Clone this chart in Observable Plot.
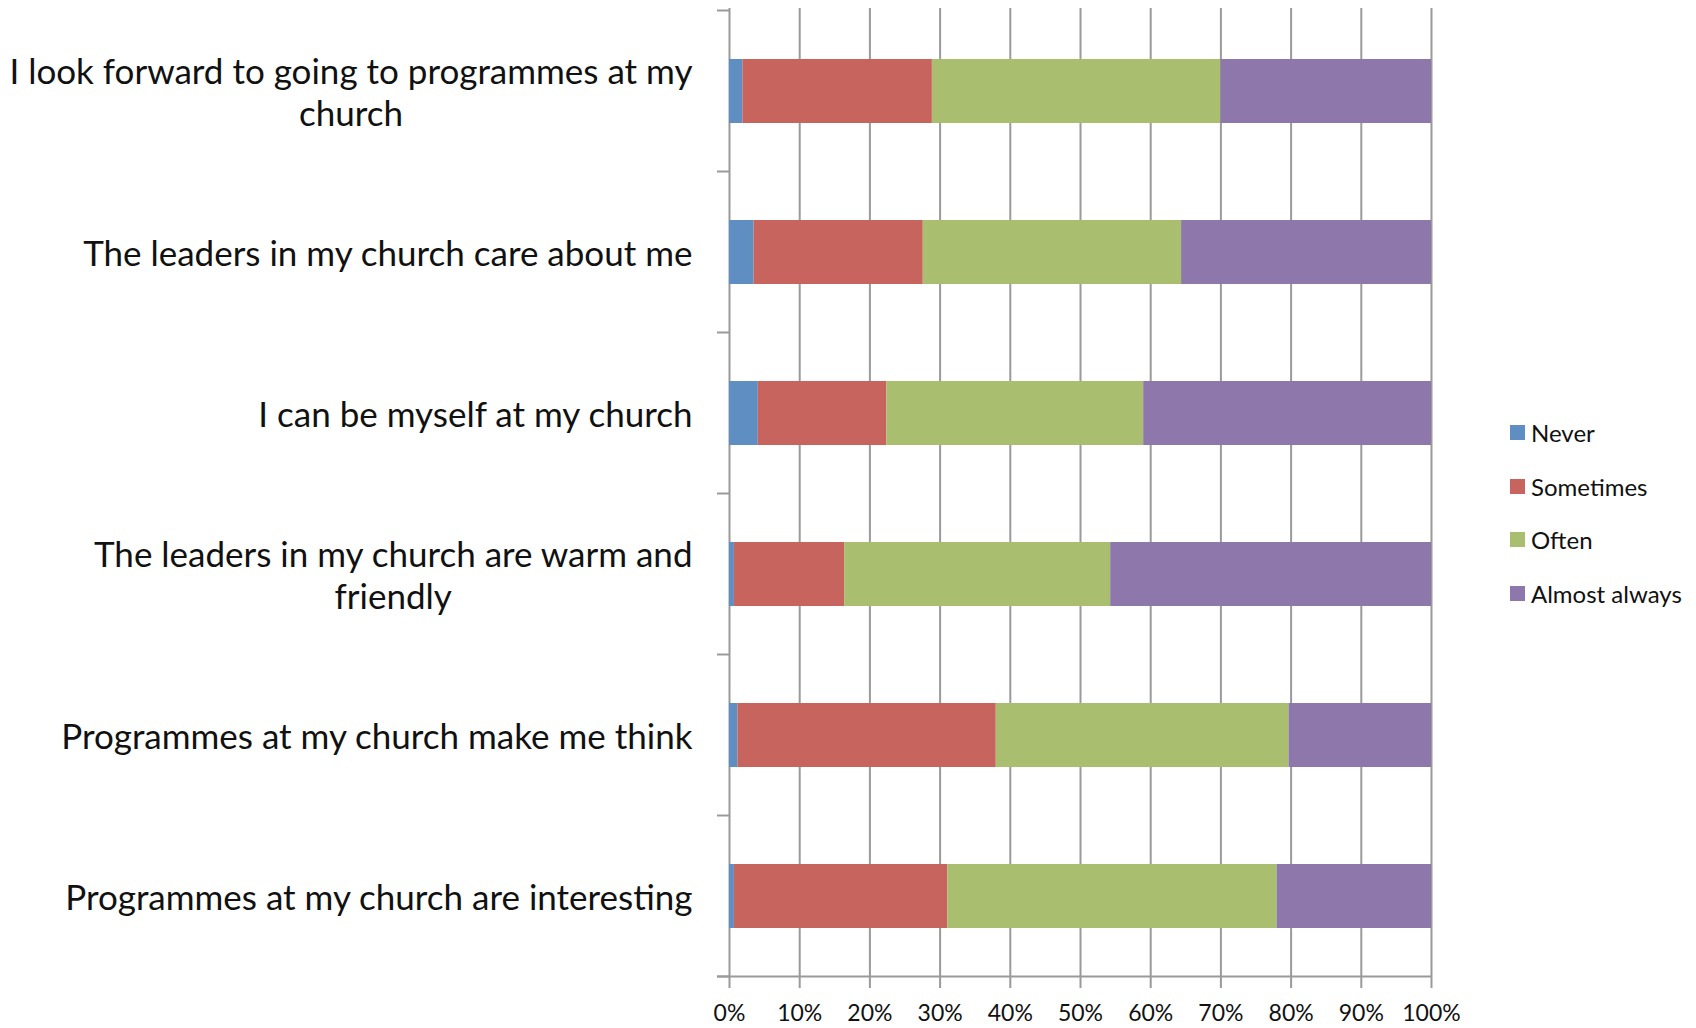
<!DOCTYPE html>
<html>
<head>
<meta charset="utf-8">
<script src="https://cdn.jsdelivr.net/npm/d3@7"></script>
<script src="https://cdn.jsdelivr.net/npm/@observablehq/plot@0.6"></script>
<style>
  html, body { margin: 0; padding: 0; background: #fff; }
  #wrap { position: relative; width: 1696px; height: 1028px; font-family: Lato, "Open Sans", sans-serif; }
  #legend { position: absolute; left: 1510px; top: 406px; font-size: 24px; color: #111; }
  .item { display: flex; align-items: center; height: 53.5px; }
  .sw { width: 15px; height: 15px; margin-right: 6px; }
</style>
</head>
<body>
<div id="wrap"><div id="legend"></div></div>
<script>
const questions = [
  "I look forward to going to programmes at my\nchurch",
  "The leaders in my church care about me",
  "I can be myself at my church",
  "The leaders in my church are warm and\nfriendly",
  "Programmes at my church make me think",
  "Programmes at my church are interesting"
];
const responses = ["Never", "Sometimes", "Often", "Almost always"];
const never        = [1.9, 3.5, 4.1, 0.7, 1.2, 0.7];
const sometimes    = [27.0, 24.1, 18.3, 15.7, 36.8, 30.4];
const often        = [41.1, 36.8, 36.6, 37.9, 41.7, 46.9];
const almostAlways = [30.0, 35.6, 41.0, 45.7, 20.3, 22.0];
const colors = ["#5F8FC2", "#C7645D", "#A9BE6E", "#8E78AB"];
const xTicks = [0, 10, 20, 30, 40, 50, 60, 70, 80, 90, 100];

const series = [never, sometimes, often, almostAlways];
const rows = [];
responses.forEach((r, k) => questions.forEach((q, i) => rows.push({question: q, response: r, value: series[k][i]})));

const grid = "#9a9a9a";

function boundaryMarks(index, scales, values, dims) {
  const y = scales.y;
  const step = y.step(), bw = y.bandwidth();
  const g = d3.create("svg:g").attr("stroke", grid).attr("stroke-width", 2);
  const x0 = dims.marginLeft;
  const ys = questions.map(q => y(q) - (step - bw) / 2);
  ys.push(y(questions[questions.length - 1]) + bw + (step - bw) / 2);
  for (const yy of ys) {
    g.append("line").attr("x1", x0 - 12).attr("x2", x0).attr("y1", yy).attr("y2", yy);
  }
  const yb = ys[ys.length - 1];
  g.append("line").attr("x1", x0 - 12).attr("x2", dims.width - dims.marginRight).attr("y1", yb).attr("y2", yb);
  return g.node();
}

const chart = Plot.plot({
  width: 1696,
  height: 1028,
  marginLeft: 729,
  marginRight: 265,
  marginTop: 8,
  marginBottom: 49,
  style: {fontFamily: "Lato, 'Open Sans', sans-serif", background: "#fff", color: "#111"},
  x: {domain: [0, 100]},
  y: {domain: questions, paddingInner: 0.6, paddingOuter: 0.3, axis: null},
  color: {domain: responses, range: colors},
  marks: [
    Plot.ruleX(xTicks, {stroke: grid, strokeWidth: 2}),
    Plot.barX(rows, {x: "value", y: "question", fill: "response", order: responses}),
    boundaryMarks,
    Plot.axisX(xTicks, {tickSize: 9, tickPadding: 16, stroke: grid, strokeWidth: 2, fontSize: 23, fill: "#111", tickFormat: d => d + "%", label: null}),
    Plot.text(questions, {y: d => d, text: d => d, frameAnchor: "left", textAnchor: "end", dx: -37, fontSize: 35, lineHeight: 1.2, fill: "#111", className: "qlabels"})
  ]
});
document.getElementById("wrap").prepend(chart);

// center multi-line labels (Excel wraps and centers them)
chart.querySelectorAll(".qlabels text").forEach(t => {
  const spans = t.querySelectorAll("tspan");
  if (spans.length > 1) {
    let w = 0;
    spans.forEach(s => { w = Math.max(w, s.getComputedTextLength()); });
    t.setAttribute("text-anchor", "middle");
    spans.forEach(s => s.setAttribute("x", -w / 2));
  }
});

const legend = document.getElementById("legend");
responses.forEach((r, k) => {
  const it = document.createElement("div");
  it.className = "item";
  it.innerHTML = `<div class="sw" style="background:${colors[k]}"></div><span>${r}</span>`;
  legend.appendChild(it);
});
</script>
</body>
</html>
